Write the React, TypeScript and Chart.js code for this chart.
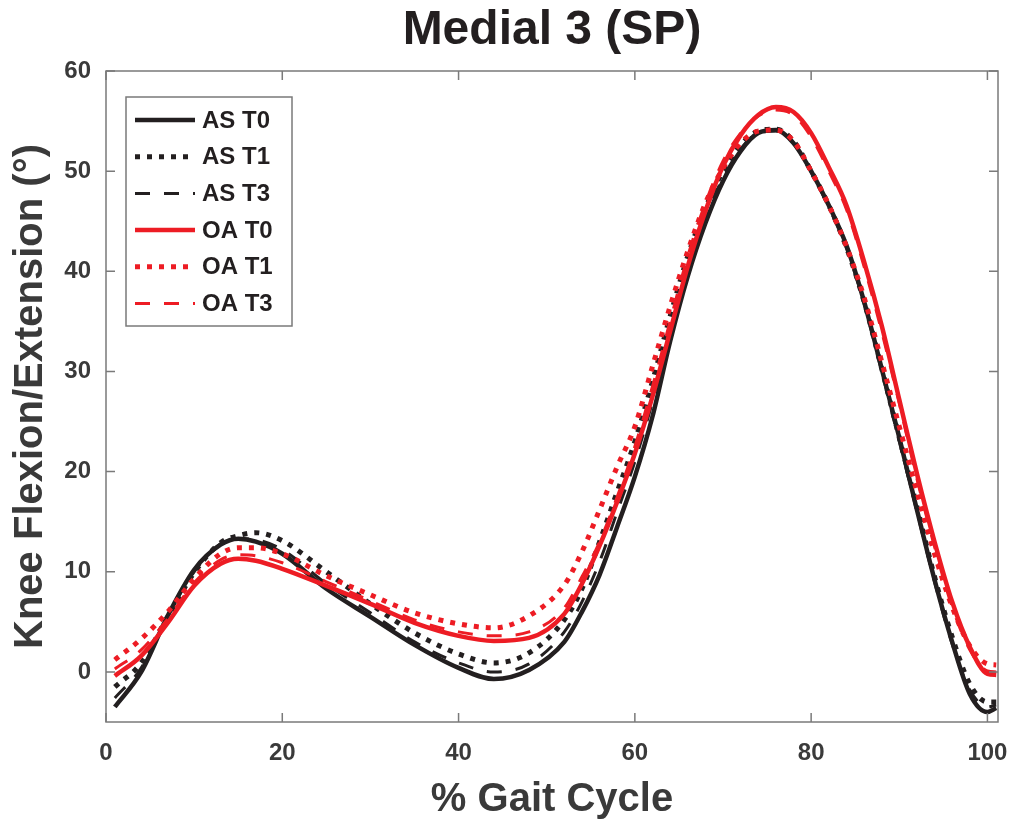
import React, { useEffect, useRef } from 'react';
import { Chart, registerables } from 'chart.js';

Chart.register(...registerables);

// % gait cycle sample positions
const GAIT = [1, 4, 7, 10, 13, 15, 17, 20, 25, 30, 35, 40, 44, 48, 52, 54, 56, 58, 60, 62, 64, 66, 68, 70, 72, 74, 76, 78, 80, 82, 84, 86, 88, 90, 92, 94, 96, 98, 100, 101];

const AS_T0 = [-3.5, 0.0, 5.6, 10.2, 12.7, 13.3, 13.0, 11.8, 8.3, 5.5, 2.7, 0.4, -0.7, 0.2, 3.0, 6.0, 9.7, 14.5, 19.5, 25.5, 33.0, 39.5, 44.8, 49.0, 52.0, 53.8, 54.1, 52.8, 50.0, 46.6, 42.6, 37.0, 30.3, 23.4, 16.2, 9.2, 3.0, -2.2, -4.0, -3.6];
const AS_T1 = [-1.5, 0.9, 5.5, 9.9, 12.9, 13.6, 13.9, 13.1, 10.0, 6.8, 3.9, 1.8, 0.9, 1.9, 5.2, 8.3, 13.0, 18.0, 23.0, 29.0, 35.5, 41.5, 46.3, 50.0, 52.6, 54.0, 54.2, 53.0, 50.0, 46.6, 42.4, 37.0, 30.3, 23.4, 16.5, 9.5, 3.5, -1.2, -3.0, -3.0];
const AS_T3 = [-2.6, 0.4, 5.6, 10.0, 12.8, 13.3, 13.2, 12.2, 8.8, 5.9, 3.0, 0.9, 0.0, 0.8, 4.0, 7.0, 11.0, 16.0, 21.0, 27.0, 34.0, 40.5, 45.5, 49.3, 52.2, 53.8, 54.0, 52.8, 49.9, 46.4, 42.3, 36.8, 30.0, 23.0, 16.0, 9.0, 2.8, -1.8, -3.5, -3.3];
const OA_T0 = [-0.4, 1.6, 4.9, 8.6, 10.8, 11.3, 11.1, 10.3, 8.6, 6.8, 4.9, 3.6, 3.1, 3.4, 5.8, 8.8, 12.6, 17.0, 21.8, 27.5, 34.0, 40.5, 46.0, 50.5, 53.6, 55.6, 56.4, 55.9, 53.8, 50.4, 46.6, 41.0, 34.6, 27.2, 19.8, 13.0, 7.0, 2.5, -0.2, -0.3];
const OA_T1 = [1.2, 3.3, 6.0, 9.3, 11.8, 12.4, 12.4, 11.8, 9.6, 7.7, 5.9, 4.8, 4.4, 5.6, 8.7, 12.0, 16.2, 20.5, 24.5, 30.5, 36.5, 42.0, 46.8, 50.3, 52.8, 54.0, 54.1, 53.0, 50.0, 46.6, 42.5, 37.4, 31.0, 24.5, 18.0, 11.8, 6.5, 2.6, 0.8, 0.7];
const OA_T3 = [0.3, 2.2, 5.3, 8.9, 11.2, 11.7, 11.6, 10.9, 9.0, 7.1, 5.2, 4.0, 3.6, 4.0, 6.4, 9.5, 13.0, 17.5, 22.5, 28.5, 35.0, 41.5, 46.8, 51.0, 53.8, 55.5, 56.1, 55.6, 53.4, 50.0, 46.2, 40.5, 34.0, 26.8, 19.3, 12.5, 6.5, 2.2, 0.1, 0.0];

const SERIES_LABELS = ['AS T0', 'AS T1', 'AS T3', 'OA T0', 'OA T1', 'OA T3'];
const X_TICKS = [0, 20, 40, 60, 80, 100];
const Y_TICKS = [0, 10, 20, 30, 40, 50, 60];

const TITLE = 'Medial 3 (SP)';
const X_LABEL = '% Gait Cycle';
const Y_LABEL = 'Knee Flexion/Extension (°)';

const BLACK = '#231f20';
const RED = '#ed1c24';
const FONT = '"Liberation Sans", Arial, Helvetica, sans-serif';
const AXIS_TEXT = '#3a3a3a';
const BOX_COLOR = '#7a7a7a';

const SOLID: number[] = [];
const DOTTED = [5, 7];
const DASHED = [15, 14];

const STYLES = [
  { color: BLACK, dash: SOLID, width: 4.5 },
  { color: BLACK, dash: DOTTED, width: 5 },
  { color: BLACK, dash: DASHED, width: 3 },
  { color: RED, dash: SOLID, width: 4.5 },
  { color: RED, dash: DOTTED, width: 5 },
  { color: RED, dash: DASHED, width: 3 },
];

const SERIES = [AS_T0, AS_T1, AS_T3, OA_T0, OA_T1, OA_T3];

const framePlugin = {
  id: 'frameAndLegend',
  afterDatasetsDraw(chart: any) {
    const { ctx, chartArea } = chart;
    const { left, right, top, bottom } = chartArea;
    const xs = chart.scales.x;
    const ys = chart.scales.y;
    ctx.save();
    // box
    ctx.strokeStyle = BOX_COLOR;
    ctx.lineWidth = 1.5;
    ctx.setLineDash([]);
    ctx.strokeRect(left, top, right - left, bottom - top);
    // inward ticks
    const tl = 9;
    ctx.beginPath();
    X_TICKS.forEach((v) => {
      const px = xs.getPixelForValue(v);
      ctx.moveTo(px, bottom);
      ctx.lineTo(px, bottom - tl);
      ctx.moveTo(px, top);
      ctx.lineTo(px, top + tl);
    });
    Y_TICKS.forEach((v) => {
      const py = ys.getPixelForValue(v);
      ctx.moveTo(left, py);
      ctx.lineTo(left + tl, py);
      ctx.moveTo(right, py);
      ctx.lineTo(right - tl, py);
    });
    ctx.stroke();

    // legend
    const bx = left + 20;
    const by = top + 26;
    const bw = 166;
    const bh = 229;
    ctx.fillStyle = '#ffffff';
    ctx.fillRect(bx, by, bw, bh);
    ctx.strokeStyle = BOX_COLOR;
    ctx.lineWidth = 1.5;
    ctx.strokeRect(bx, by, bw, bh);
    ctx.font = `bold 24px ${FONT}`;
    ctx.textBaseline = 'middle';
    ctx.textAlign = 'left';
    chart.data.datasets.forEach((ds: any, i: number) => {
      const y = by + 23 + i * 36.7;
      ctx.strokeStyle = ds.borderColor;
      ctx.lineWidth = ds.borderWidth;
      ctx.setLineDash(ds.borderDash || []);
      ctx.lineCap = 'butt';
      ctx.beginPath();
      ctx.moveTo(bx + 9, y);
      ctx.lineTo(bx + 69, y);
      ctx.stroke();
      ctx.setLineDash([]);
      ctx.fillStyle = '#231f20';
      ctx.fillText(ds.label, bx + 76, y + 1);
    });

    // title
    ctx.fillStyle = '#231f20';
    ctx.font = `bold 48px ${FONT}`;
    ctx.textAlign = 'center';
    ctx.textBaseline = 'middle';
    ctx.fillText(TITLE, (left + right) / 2, top - 40);
    ctx.restore();
  },
};

export default function App() {
  const ref = useRef<HTMLCanvasElement | null>(null);

  useEffect(() => {
    if (!ref.current) return;
    const datasets = SERIES.map((vals, i) => ({
      label: SERIES_LABELS[i],
      data: GAIT.map((g, k) => ({ x: g, y: vals[k] })),
      borderColor: STYLES[i].color,
      backgroundColor: STYLES[i].color,
      borderWidth: STYLES[i].width,
      borderDash: STYLES[i].dash,
      borderCapStyle: 'butt' as const,
      pointRadius: 0,
      fill: false,
      cubicInterpolationMode: 'monotone' as const,
      order: 6 - i,
    }));

    const chart = new Chart(ref.current, {
      type: 'line',
      data: { datasets },
      plugins: [framePlugin],
      options: {
        animation: false,
        responsive: false,
        devicePixelRatio: 1,
        layout: { padding: { left: 0, right: 22, top: 71, bottom: 0 } },
        plugins: {
          legend: { display: false },
          title: { display: false },
          tooltip: { enabled: false },
        },
        scales: {
          x: {
            type: 'linear',
            min: 0,
            max: 101.2,
            afterBuildTicks: (s: any) => {
              s.ticks = X_TICKS.map((v) => ({ value: v }));
            },
            afterFit: (s: any) => {
              s.height = 105;
            },
            grid: { display: false },
            border: { display: false },
            ticks: {
              color: AXIS_TEXT,
              font: { family: FONT, size: 24, weight: 'bold' },
              padding: 9,
              maxRotation: 0,
            },
            title: {
              display: true,
              text: X_LABEL,
              color: AXIS_TEXT,
              font: { family: FONT, size: 40, weight: 'bold' },
              padding: { top: 0, bottom: 3 },
            },
          },
          y: {
            type: 'linear',
            min: -5,
            max: 60,
            afterBuildTicks: (s: any) => {
              s.ticks = Y_TICKS.map((v) => ({ value: v }));
            },
            afterFit: (s: any) => {
              s.width = 106;
            },
            grid: { display: false },
            border: { display: false },
            ticks: {
              color: AXIS_TEXT,
              font: { family: FONT, size: 24, weight: 'bold' },
              padding: 7,
            },
            title: {
              display: true,
              text: Y_LABEL,
              color: AXIS_TEXT,
              font: { family: FONT, size: 40, weight: 'bold' },
              padding: { top: 7, bottom: 0 },
            },
          },
        },
      },
    });
    return () => chart.destroy();
  }, []);

  return (
    <div style={{ position: 'absolute', left: 0, top: 0, width: 1020, height: 827, background: '#ffffff' }}>
      <canvas ref={ref} width={1020} height={827} style={{ display: 'block' }} />
    </div>
  );
}
